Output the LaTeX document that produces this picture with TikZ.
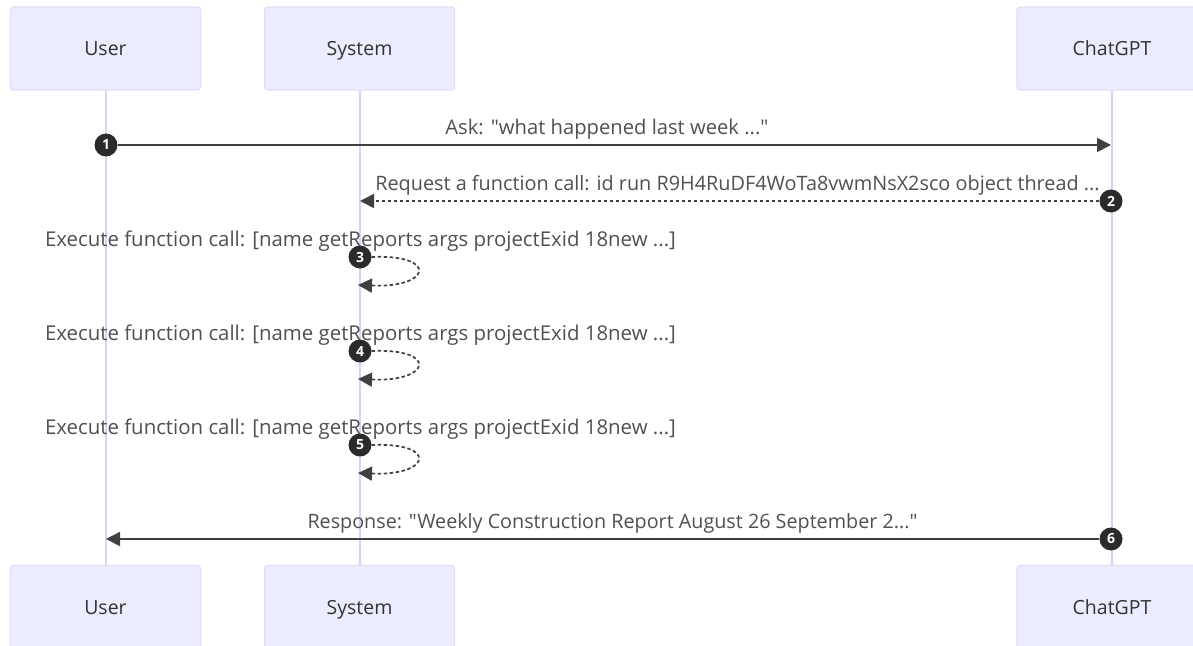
\documentclass[tikz,border=0pt]{standalone}
\usepackage{fontspec}
\newfontfamily\labfont{Open Sans}
\usetikzlibrary{arrows.meta}
\definecolor{actorfill}{HTML}{ECECFF}
\definecolor{actorline}{HTML}{E2DEFA}
\definecolor{lifeline}{HTML}{D9D2F5}
\definecolor{msgline}{HTML}{404040}
\definecolor{badge}{HTML}{2B2B2B}
\definecolor{labeltext}{HTML}{505050}
\tikzset{
  x=1pt,y=-1pt,
  actor/.style={draw=actorline,fill=actorfill,line width=1.2pt,rounded corners=3pt,minimum width=190pt,minimum height=83pt,inner sep=0pt,text=black!80,text height=15pt,text depth=1pt,font=\labfont\fontsize{19.5}{20}\selectfont},
  life/.style={draw=lifeline,line width=2pt},
  msg/.style={draw=msgline,line width=1.8pt,-{Triangle[length=14pt,width=14pt]}},
  dmsg/.style={msg,line width=1.7pt,dash pattern=on 3.5pt off 2.5pt},
  num/.style={circle,fill=badge,text=white,inner sep=0pt,minimum size=23pt,font=\labfont\fontsize{14}{15}\bfseries\selectfont},
  lab/.style={text=labeltext,inner sep=0pt,text height=15pt,text depth=1pt,font=\labfont\fontsize{20.2}{22}\selectfont},
  labx/.style={lab,font=\labfont\fontsize{20.4}{22}\selectfont},
}
\begin{document}
\begin{tikzpicture}
\useasboundingbox (0,0) rectangle (1193,645);
\clip (0,0) rectangle (1193,645);
\node[actor] (ut) at (105.5,48.5) {User};
\node[actor] (st) at (359.5,48.5) {System};
\node[actor] (ct) at (1112,48.5) {ChatGPT};
\node[actor] (ub) at (105.5,607) {User};
\node[actor] (sb) at (359.5,607) {System};
\node[actor] (cb) at (1112,607) {ChatGPT};
\draw[life] (ut) -- (ub);
\draw[life] (st) -- (sb);
\draw[life] (ct) -- (cb);
% message anchors
\coordinate (c1) at (1111,145);
\coordinate (s2) at (360,201);
\coordinate (s3) at (358,285);
\coordinate (s4) at (358,379);
\coordinate (s5) at (358,473);
\coordinate (u6) at (106,539);
\node[num] (n1) at (106,145) {1};
\node[num] (n2) at (1111,201) {2};
\node[num] (n3) at (360,257) {3};
\node[num] (n4) at (360,351) {4};
\node[num] (n5) at (360,445) {5};
\node[num] (n6) at (1111,539) {6};
\draw[msg] (n1) -- (c1);
\draw[dmsg] (n2) -- (s2);
\draw[dmsg] (n3.east) .. controls (438,254) and (432,288) .. (s3);
\draw[dmsg] (n4.east) .. controls (438,348) and (432,382) .. (s4);
\draw[dmsg] (n5.east) .. controls (438,442) and (432,476) .. (s5);
\draw[msg] (n6) -- (u6);
\node[lab] (l1) at (607,127) {Ask: "what happened last week ..."};
\node[lab,font=\labfont\fontsize{19.85}{22}\selectfont] (l2) at (737.5,183) {Request a function call: id run R9H4RuDF4WoTa8vwmNsX2sco object thread ...};
\node[labx] (l3) at (360.5,239) {Execute function call: [name getReports args projectExid 18new ...]};
\node[labx] (l4) at (360.5,333) {Execute function call: [name getReports args projectExid 18new ...]};
\node[labx] (l5) at (360.5,427) {Execute function call: [name getReports args projectExid 18new ...]};
\node[lab,font=\labfont\fontsize{19.75}{22}\selectfont] (l6) at (612.5,521) {Response: "Weekly Construction Report August 26 September 2..."};
\end{tikzpicture}
\end{document}
